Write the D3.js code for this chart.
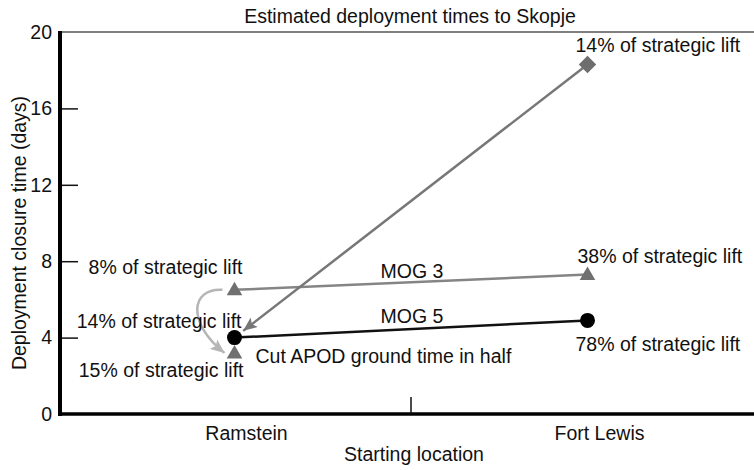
<!DOCTYPE html>
<html>
<head>
<meta charset="utf-8">
<script src="https://cdn.jsdelivr.net/npm/d3@7.9.0/dist/d3.min.js"></script>
<style>
  body { margin: 0; background: #fff; }
  svg { display: block; font-family: "Liberation Sans", Arial, Helvetica, sans-serif; }
  text { font-size: 19.5px; fill: #111; }
</style>
</head>
<body>
<svg id="chart" width="754" height="470"></svg>
<script>
// data
const locations = ['Ramstein', 'Fort Lewis'];
const mog5 = [4.0, 4.9];          // black circles
const mog3 = [6.5, 7.3];          // grey triangles
const fortLewisMog = 18.3;        // grey diamond
const cutApod = 3.2;              // Ramstein, ground time halved
const yTicks = [0, 4, 8, 12, 16, 20];
const liftLabels = {
  diamond: '14% of strategic lift',
  mog3Right: '38% of strategic lift',
  mog5Right: '78% of strategic lift',
  mog3Left: '8% of strategic lift',
  mog5Left: '14% of strategic lift',
  cut: '15% of strategic lift'
};

const svg = d3.select('#chart');
const W = 754;

const x = d3.scaleBand().domain(locations).range([58, 764]).paddingInner(0).paddingOuter(0);
const y = d3.scaleLinear().domain([0, 20]).range([414, 32]);
const cx = d => x(d) + x.bandwidth() / 2;

// arrow heads
const defs = svg.append('defs');
function arrowHead(id, color) {
  defs.append('marker')
    .attr('id', id)
    .attr('viewBox', '0 0 14 12')
    .attr('refX', 14).attr('refY', 6)
    .attr('markerWidth', 14).attr('markerHeight', 12)
    .attr('markerUnits', 'userSpaceOnUse')
    .attr('orient', 'auto')
    .append('path')
    .attr('d', 'M0,0 L14,6 L0,12 L3,6 Z')
    .attr('fill', color);
}
arrowHead('arrowDark', '#777');
arrowHead('arrowLight', '#b5b5b5');

// frame
svg.append('line')
  .attr('x1', 60).attr('x2', W).attr('y1', y(20)).attr('y2', y(20))
  .attr('stroke', '#555').attr('stroke-width', 1.5);

const yAxis = svg.append('g')
  .attr('transform', 'translate(60,0)')
  .call(d3.axisLeft(y).tickValues(yTicks).tickSize(-18).tickPadding(8).tickFormat(d3.format('d')));
yAxis.select('.domain').remove();
yAxis.selectAll('.tick line').attr('stroke', '#111').attr('stroke-width', 1.5)
  .attr('display', d => (d === 0 || d === 20) ? 'none' : null);
yAxis.selectAll('.tick text').style('font-size', '19.5px').attr('fill', '#111');

svg.append('line')
  .attr('x1', 60).attr('x2', 60).attr('y1', y(20) - 1).attr('y2', y(0) + 2)
  .attr('stroke', '#000').attr('stroke-width', 4);

const xAxis = svg.append('g')
  .attr('transform', `translate(0,${y(0)})`)
  .call(d3.axisBottom(x).tickSize(0).tickPadding(12));
xAxis.select('.domain').remove();
xAxis.selectAll('.tick text').style('font-size', '19.5px').attr('fill', '#111').attr('dx', 12);

svg.append('line')
  .attr('x1', 58).attr('x2', W).attr('y1', y(0)).attr('y2', y(0))
  .attr('stroke', '#000').attr('stroke-width', 3.5);
// divider tick between the two locations
svg.append('line')
  .attr('x1', x('Fort Lewis')).attr('x2', x('Fort Lewis'))
  .attr('y1', y(0)).attr('y2', y(0) - 17)
  .attr('stroke', '#111').attr('stroke-width', 1.5);

// titles
svg.append('text').attr('x', 410).attr('y', 23).attr('text-anchor', 'middle')
  .text('Estimated deployment times to Skopje');
svg.append('text').attr('x', 414).attr('y', 461).attr('text-anchor', 'middle')
  .text('Starting location');
svg.append('text')
  .attr('transform', `translate(26,${(y(0) + y(20)) / 2 + 10}) rotate(-90)`)
  .attr('text-anchor', 'middle')
  .text('Deployment closure time (days)');

const xR = cx('Ramstein'), xF = cx('Fort Lewis');

// lines
const line = d3.line().x(d => cx(d[0])).y(d => y(d[1]));
svg.append('path')
  .attr('d', line(d3.zip(locations, mog3)))
  .attr('fill', 'none').attr('stroke', '#858585').attr('stroke-width', 2.5);
svg.append('path')
  .attr('d', line(d3.zip(locations, mog5)))
  .attr('fill', 'none').attr('stroke', '#111').attr('stroke-width', 2.5);

// arrow from the Fort Lewis diamond down to the Ramstein circle
const dx = xR - xF, dy = y(mog5[0]) - y(fortLewisMog);
const len = Math.hypot(dx, dy);
svg.append('line')
  .attr('x1', xF).attr('y1', y(fortLewisMog))
  .attr('x2', xR - dx / len * 11).attr('y2', y(mog5[0]) - dy / len * 11)
  .attr('stroke', '#777').attr('stroke-width', 2.5)
  .attr('marker-end', 'url(#arrowDark)');

// curved arrow: MOG 3 triangle to the halved ground time triangle
const y0 = y(mog3[0]), y1 = y(cutApod);
svg.append('path')
  .attr('d', `M${xR - 12},${y0} C${xR - 44},${y0 - 2} ${xR - 48},${y1 - 30} ${xR - 10},${y1}`)
  .attr('fill', 'none').attr('stroke', '#b5b5b5').attr('stroke-width', 2.5)
  .attr('marker-end', 'url(#arrowLight)');

// markers
const tri = d3.symbol(d3.symbolTriangle, 105);
svg.selectAll('.tri')
  .data([[xR, mog3[0]], [xF, mog3[1]], [xR, cutApod]])
  .join('path')
  .attr('transform', d => `translate(${d[0]},${y(d[1]) + 1})`)
  .attr('d', tri).attr('fill', '#707070');

svg.selectAll('.dot')
  .data(d3.zip(locations, mog5))
  .join('circle')
  .attr('cx', d => cx(d[0])).attr('cy', d => y(d[1])).attr('r', 7.5)
  .attr('fill', '#000');

svg.append('path')
  .attr('transform', `translate(${xF},${y(fortLewisMog)}) rotate(45)`)
  .attr('d', d3.symbol(d3.symbolSquare, 150))
  .attr('fill', '#6e6e6e');

// annotations
const note = (tx, ty, anchor, str) => svg.append('text')
  .attr('x', tx).attr('y', ty).attr('text-anchor', anchor).text(str);

note(xF - 12, y(fortLewisMog) - 12, 'start', liftLabels.diamond);
note(xF - 10, y(mog3[1]) - 12, 'start', liftLabels.mog3Right);
note(xF - 12, y(mog5[1]) + 31, 'start', liftLabels.mog5Right);
note(xR + 8, y(mog3[0]) - 16, 'end', liftLabels.mog3Left);
note(xR + 7, y(mog5[0]) - 10, 'end', liftLabels.mog5Left);
note(xR + 9, y(cutApod) + 24, 'end', liftLabels.cut);
note(xR + 21, y(cutApod) + 10, 'start', 'Cut APOD ground time in half');
note(x('Fort Lewis') + 1, (y(mog3[0]) + y(mog3[1])) / 2 - 4, 'middle', 'MOG 3');
note(x('Fort Lewis') + 1, (y(mog5[0]) + y(mog5[1])) / 2 - 6, 'middle', 'MOG 5');
</script>
</body>
</html>
